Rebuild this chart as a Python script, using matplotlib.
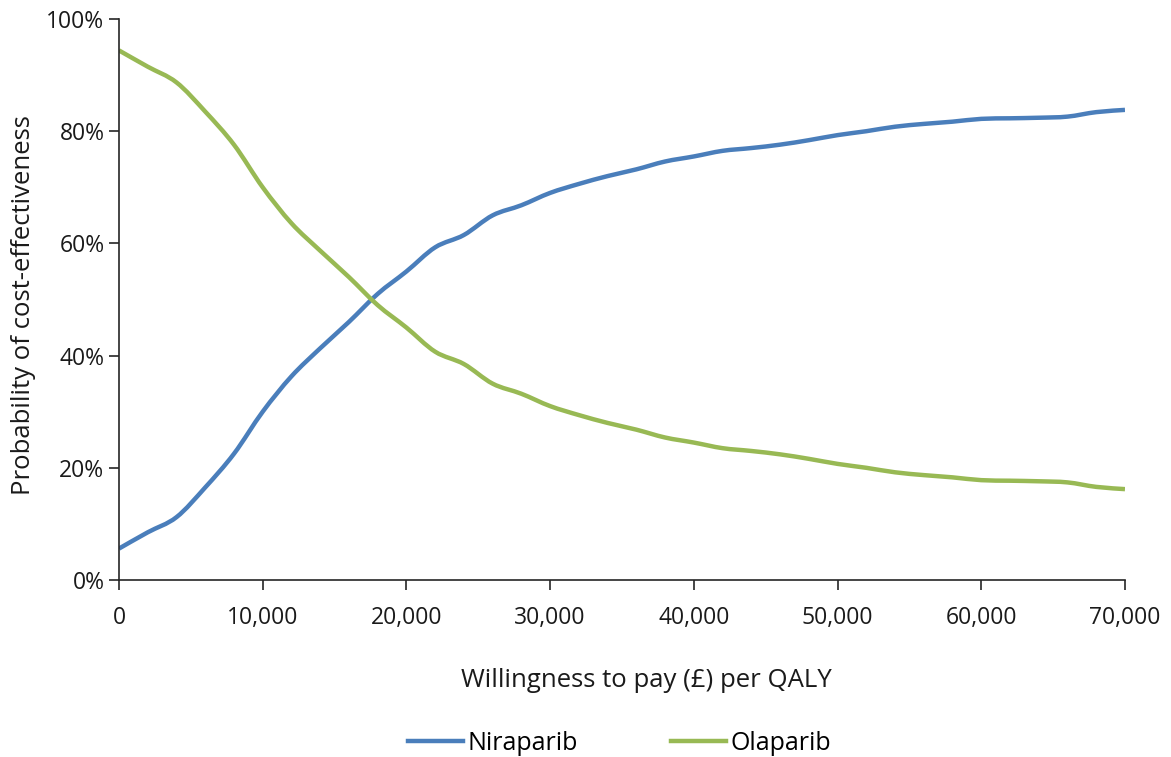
import numpy as np
import matplotlib
matplotlib.use("Agg")
import matplotlib.pyplot as plt
from matplotlib.path import Path
from matplotlib.patches import PathPatch
from matplotlib.lines import Line2D
from matplotlib.ticker import FuncFormatter, MultipleLocator

plt.rcParams['font.family'] = ['Open Sans', 'DejaVu Sans']

# Willingness-to-pay thresholds (£ per QALY)
wtp = np.arange(0, 70001, 2000)

niraparib = [5.6, 8.5, 11.2, 16.5, 22.5, 30.0, 36.3, 41.3, 46.0, 51.0,
             55.0, 59.3, 61.5, 65.0, 66.8, 69.0, 70.6, 72.0, 73.2, 74.6,
             75.5, 76.5, 77.0, 77.6, 78.4, 79.3, 80.0, 80.8, 81.3, 81.7,
             82.2, 82.3, 82.4, 82.6, 83.4, 83.8]
olaparib = [94.4, 91.5, 88.7, 83.5, 77.6, 70.0, 63.6, 58.7, 54.0, 49.0,
            45.0, 40.7, 38.5, 35.0, 33.2, 31.0, 29.4, 28.0, 26.8, 25.4,
            24.5, 23.5, 23.0, 22.4, 21.6, 20.7, 20.0, 19.2, 18.7, 18.3,
            17.8, 17.7, 17.6, 17.4, 16.6, 16.2]

series_names = ['Niraparib', 'Olaparib']
series_colors = ['#4A7EBB', '#98B954']


def smooth_path(x, y, tension=1 / 6):
    """Cubic Bezier path through the points (Catmull-Rom style smoothing)."""
    x = np.asarray(x, float)
    y = np.asarray(y, float)
    verts = [(x[0], y[0])]
    codes = [Path.MOVETO]
    n = len(x)
    for i in range(n - 1):
        x0, y0 = (x[i - 1], y[i - 1]) if i > 0 else (x[i], y[i])
        x3, y3 = (x[i + 2], y[i + 2]) if i + 2 < n else (x[i + 1], y[i + 1])
        c1 = (x[i] + (x[i + 1] - x0) * tension, y[i] + (y[i + 1] - y0) * tension)
        c2 = (x[i + 1] - (x3 - x[i]) * tension, y[i + 1] - (y3 - y[i]) * tension)
        verts += [c1, c2, (x[i + 1], y[i + 1])]
        codes += [Path.CURVE4] * 3
    return Path(verts, codes)


fig = plt.figure(figsize=(11.71, 7.57), dpi=100)
ax = fig.add_axes([0.1016, 0.2338, 0.8591, 0.7411])

for vals, name, col in zip([niraparib, olaparib], series_names, series_colors):
    patch = PathPatch(smooth_path(wtp, vals), facecolor='none', edgecolor=col,
                      lw=3.2, capstyle='butt', joinstyle='round')
    ax.add_patch(patch)

ax.set_xlim(0, 70000)
ax.set_ylim(0, 100)
ax.xaxis.set_major_locator(MultipleLocator(10000))
ax.yaxis.set_major_locator(MultipleLocator(20))
ax.xaxis.set_major_formatter(FuncFormatter(lambda v, p: f"{int(v):,}"))
ax.yaxis.set_major_formatter(FuncFormatter(lambda v, p: f"{int(v)}%"))

for s in ['top', 'right']:
    ax.spines[s].set_visible(False)
for s in ['left', 'bottom']:
    ax.spines[s].set_color('#262626')
    ax.spines[s].set_linewidth(1.2)
ax.tick_params(axis='both', direction='out', length=7.5, width=1.2,
               color='#262626', labelsize=16.5, labelcolor='#1a1a1a')
ax.tick_params(axis='x', pad=11)
ax.tick_params(axis='y', pad=3)

ax.set_xlabel('Willingness to pay (£) per QALY', fontsize=18.5, color='#1a1a1a')
ax.xaxis.set_label_coords(0.524, -0.157)
ax.set_ylabel('Probability of cost-effectiveness', fontsize=18.5, color='#1a1a1a')
ax.yaxis.set_label_coords(-0.082, 0.49)

handles = [Line2D([], [], color=c, lw=3.2) for c in series_colors]
fig.legend(handles, series_names, loc='center', bbox_to_anchor=(0.529, 0.018),
           ncol=2, frameon=False, fontsize=18, handlelength=2.2,
           handletextpad=0.2, columnspacing=3.7)

fig.savefig('out.png', dpi=100, facecolor='white')
